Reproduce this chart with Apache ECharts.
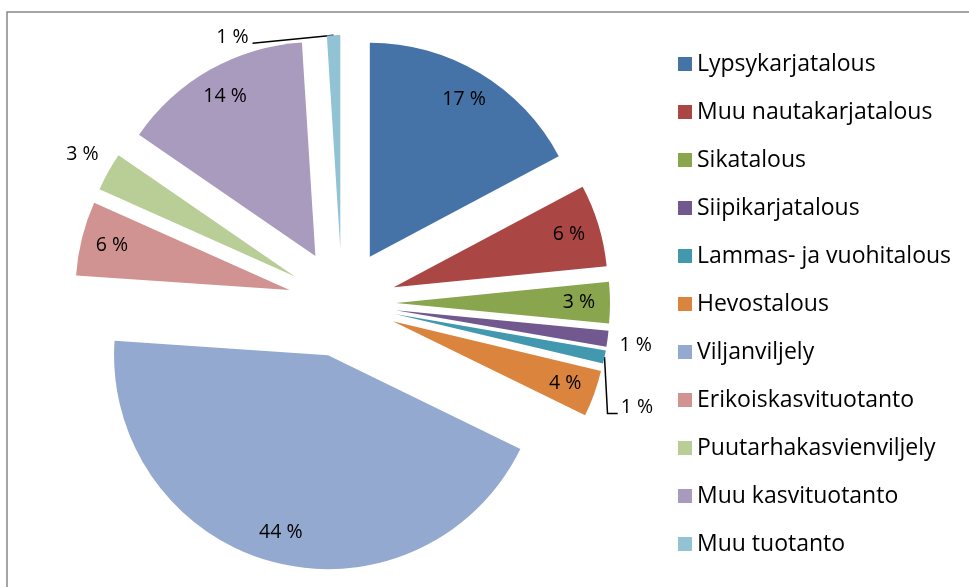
<!DOCTYPE html>
<html>
<head>
<meta charset="utf-8">
<script src="https://cdn.jsdelivr.net/npm/echarts@6/dist/echarts.min.js"></script>
<style>
  html, body { margin: 0; padding: 0; background: #fff; }
  #chart { width: 969px; height: 587px; }
</style>
</head>
<body>
<div id="chart"></div>
<script>
// tuotantosuunnat, osuus (%)
const categories = [
  'Lypsykarjatalous', 'Muu nautakarjatalous', 'Sikatalous', 'Siipikarjatalous',
  'Lammas- ja vuohitalous', 'Hevostalous', 'Viljanviljely', 'Erikoiskasvituotanto',
  'Puutarhakasvienviljely', 'Muu kasvituotanto', 'Muu tuotanto'
]
const shares = [17.2, 6.2, 3.1, 1.2, 1.0, 3.5, 43.8, 5.6, 2.9, 14.4, 1.0]

const colors = [
  '#4572A7', '#AA4643', '#89A54E', '#71588F', '#4198AF', '#DB843D',
  '#93A9CF', '#D19392', '#B9CD96', '#A99BBD', '#92C3D4'
]

const font = '"Open Sans", "Noto Sans", sans-serif'
const center = [342, 303]
const R = 214
const explode = 54

// labels drawn outside the slice (line + small nudge)
const outside = {
  'Siipikarjatalous': { line: { show: false, length: 8, length2: 4 }, dy: 6 },
  'Lammas- ja vuohitalous': { line: { show: true, length: 4, length2: 8 }, dx: 6, dy: 42, elbow: 'down' },
  'Puutarhakasvienviljely': { line: { show: false, length: 10, length2: 2 }, dx: 6, dy: -13 },
  'Muu tuotanto': { line: { show: true, length: 2, length2: 72 }, dx: -8, dy: 4, elbow: 'left' }
}

const chart = echarts.init(document.getElementById('chart'))

const pieData = categories.map((name, i) => ({
  name, value: shares[i], selected: true, itemStyle: { color: colors[i] }
}))

const labelData = categories.map((name, i) => {
  const o = outside[name]
  return {
    name, value: shares[i], selected: true,
    label: { position: o ? 'outside' : 'inside' },
    labelLine: o ? o.line : { show: false }
  }
})

function moveLabel(p) {
  const o = outside[categories[p.dataIndex]]
  if (!o) return {}
  const res = { dx: o.dx || 0, dy: o.dy || 0 }
  const pts = p.labelLinePoints
  if (o.elbow && pts && pts.length) {
    const start = pts[0]
    const r = p.labelRect
    const left = r.x + res.dx
    const right = left + r.width
    const base = r.y + res.dy + r.height / 2 + 6
    if (o.elbow === 'down') {
      res.labelLinePoints = [start, [start[0] + 3, base], [left - 3, base]]
    } else {
      res.labelLinePoints = [start, [right + 4, base]]
    }
  }
  return res
}

chart.setOption({
  animation: false,
  color: colors,
  graphic: [{
    type: 'rect',
    shape: { x: 7, y: 12, width: 1200, height: 1200 },
    style: { fill: 'none', stroke: '#888', lineWidth: 1.5 },
    silent: true
  }],
  legend: {
    orient: 'vertical',
    left: 678,
    top: 52,
    padding: 0,
    icon: 'rect',
    itemWidth: 14,
    itemHeight: 14,
    itemGap: 24,
    selectedMode: false,
    textStyle: { fontFamily: font, fontSize: 23, color: '#000', lineHeight: 24 },
    data: categories
  },
  series: [
    {
      type: 'pie',
      center, radius: R,
      startAngle: 90,
      clockwise: true,
      selectedMode: 'multiple',
      selectedOffset: explode,
      label: { show: false },
      labelLine: { show: false },
      emphasis: { disabled: true },
      silent: true,
      data: pieData
    },
    {
      type: 'pie',
      center, radius: [Math.round(R * 0.68), R],
      startAngle: 90,
      clockwise: true,
      selectedMode: 'multiple',
      selectedOffset: explode,
      itemStyle: { color: 'rgba(0,0,0,0)' },
      emphasis: { disabled: true },
      silent: true,
      avoidLabelOverlap: true,
      label: {
        show: true,
        color: '#000',
        fontFamily: font,
        fontSize: 19.5,
        formatter: p => Math.round(p.percent) + ' %'
      },
      labelLine: { lineStyle: { color: '#000', width: 1.5 } },
      labelLayout: moveLabel,
      data: labelData
    }
  ]
})
</script>
</body>
</html>
